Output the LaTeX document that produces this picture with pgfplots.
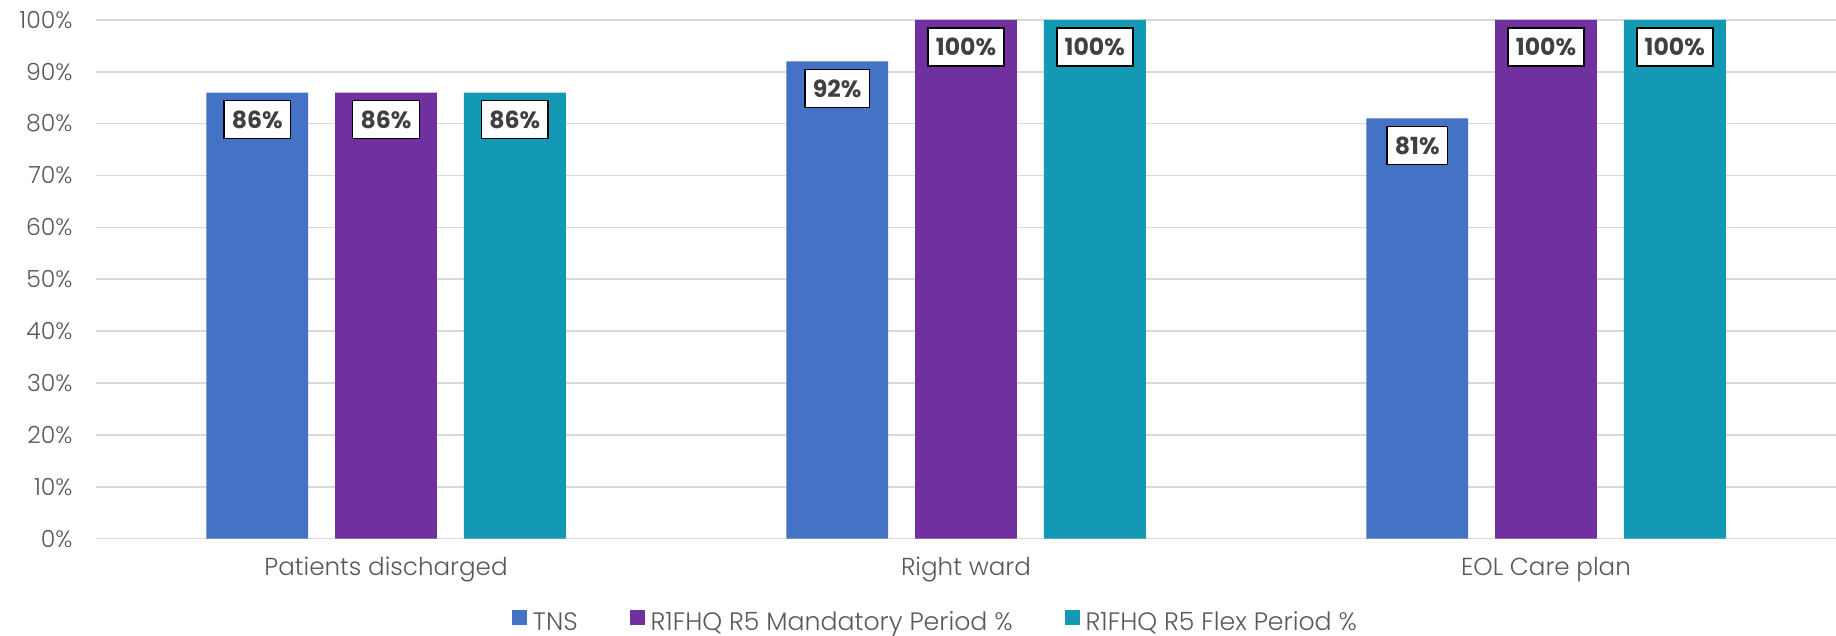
\documentclass[border=0pt]{standalone}
\usepackage{pgfplots}
\pgfplotsset{compat=1.18}
\usepackage{fontspec}
\setmainfont{Poppins}[UprightFont={* Light}, BoldFont={* Bold}]
\definecolor{tns}{HTML}{4472C4}
\definecolor{mand}{HTML}{7030A0}
\definecolor{flex}{HTML}{1399B4}
\definecolor{txt}{HTML}{595959}
\definecolor{lbl}{HTML}{404040}
\definecolor{gridc}{HTML}{D9D9D9}
\pgfplotsset{
  sq legend/.style={legend image code/.code={\fill[##1] (0pt,-1pt) rectangle (7.5pt,6.5pt);}},
}
\begin{document}
\begin{tikzpicture}
\path[use as bounding box] (0,0) rectangle (918pt,318pt);
\begin{axis}[
    at={(48pt,48.65pt)}, anchor=south west,
    scale only axis,
    width=870pt, height=259.4pt,
    ybar, bar width=50.95pt,
    xmin=-0.5, xmax=2.5,
    ymin=0, ymax=100,
    xtick=data,
    xticklabels={Patients discharged, Right ward, EOL Care plan},
    ytick={0,10,...,100},
    yticklabel={\pgfmathprintnumber{\tick}\%},
    /pgf/number format/assume math mode=true,
    axis line style={draw=none},
    major tick length=0pt,
    ymajorgrids, grid style={gridc, line width=0.8pt},
    tick label style={font=\fontsize{11.8}{13}\selectfont, text=txt},
    xticklabel style={font=\fontsize{12.3}{14}\selectfont, inner sep=0pt, anchor=center, yshift=-15.5pt},
    yticklabel style={inner sep=0pt, anchor=east, xshift=-11.5pt},
    nodes near coords={\pgfmathprintnumber{\pgfplotspointmeta}\%},
    every node near coord/.append style={font=\fontsize{11.8}{13}\bfseries\selectfont,
        text=lbl, fill=white, draw=black, line width=0.8pt,
        inner xsep=4pt, inner ysep=0pt, minimum height=19pt,
        anchor=center, yshift=-13.5pt},
    legend columns=-1,
    legend style={draw=none, fill=none, at={(0.483,-0.162)}, anchor=center,
        font=\fontsize{12.6}{14}\selectfont, text=txt,
        /tikz/every even column/.append style={column sep=24pt},
        /tikz/every odd column/.append style={column sep=1pt}},
    legend cell align=left,
]
\addplot[fill=tns, draw=none, bar shift=-64.4pt, sq legend] coordinates {(0,86) (1,92) (2,81)};
\addplot[fill=mand, draw=none, bar shift=0pt, sq legend] coordinates {(0,86) (1,100) (2,100)};
\addplot[fill=flex, draw=none, bar shift=64.4pt, sq legend] coordinates {(0,86) (1,100) (2,100)};
\legend{TNS, R1FHQ R5 Mandatory Period \%, R1FHQ R5 Flex Period \%}
\end{axis}
\end{tikzpicture}
\end{document}
